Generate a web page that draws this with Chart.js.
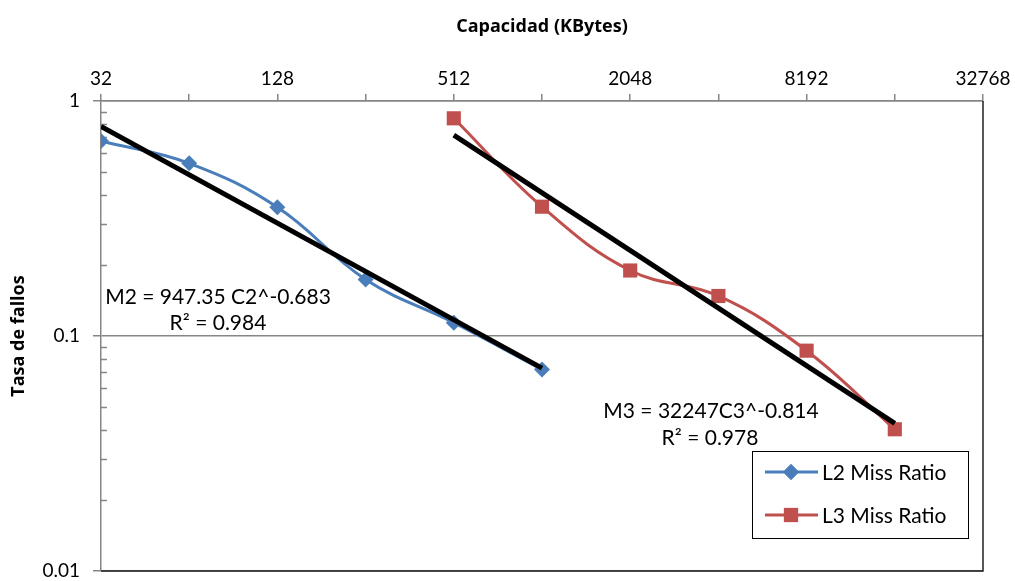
<!DOCTYPE html>
<html lang="es">
<head>
    <meta charset="UTF-8">
    <title>Tasa de fallos</title>
    <script src="https://cdn.jsdelivr.net/npm/chart.js"></script>
    <style>
        html, body {
            margin: 0;
            padding: 0;
            background: #fff;
        }
        #wrap {
            width: 1015px;
            height: 581px;
        }
    </style>
</head>
<body>
    <div id="wrap"><canvas id="chart" width="1015" height="581"></canvas></div>

    <script>
        // capacities in KBytes
        const l2Cap = [32, 64, 128, 256, 512, 1024];
        const l2Miss = [0.676, 0.543, 0.353, 0.174, 0.114, 0.0721];
        const l3Cap = [512, 1024, 2048, 4096, 8192, 16384];
        const l3Miss = [0.844, 0.355, 0.190, 0.148, 0.0866, 0.0401];

        // power trendlines, end points
        const l2TrendCap = [32, 1024];
        const l2TrendMiss = [0.78, 0.073];
        const l3TrendCap = [512, 16384];
        const l3TrendMiss = [0.716, 0.0425];

        const xTicks = [32, 64, 128, 256, 512, 1024, 2048, 4096, 8192, 16384, 32768];
        const xLabels = [32, 128, 512, 2048, 8192, 32768];
        const yTicks = [0.01, 0.1, 1];

        const l2Label = 'L2 Miss Ratio';
        const l3Label = 'L3 Miss Ratio';
        const l2Eq = ['M2 = 947.35 C2^-0.683', 'R² = 0.984'];
        const l3Eq = ['M3 = 32247C3^-0.814', 'R² = 0.978'];

        const FONT = 'Lato, "Open Sans", sans-serif';
        const TITLE_FONT = '"Open Sans", sans-serif';
        const BLUE = '#4a7ebb';
        const RED = '#c0504d';

        function pts(xs, ys) {
            return xs.map((x, i) => ({ x: x, y: ys[i] }));
        }

        // axis decorations, equations, frame and legend
        const extras = {
            id: 'extras',
            beforeDatasetsDraw(chart) {
                const ctx = chart.ctx;
                const a = chart.chartArea;
                const y = chart.scales.y;
                ctx.save();
                // minor ticks on the y axis, pointing inward
                ctx.strokeStyle = '#868686';
                ctx.lineWidth = 1.5;
                [0.01, 0.1].forEach(base => {
                    for (let k = 2; k <= 9; k++) {
                        const py = Math.round(y.getPixelForValue(base * k)) + 0.5;
                        ctx.beginPath();
                        ctx.moveTo(a.left, py);
                        ctx.lineTo(a.left + 6, py);
                        ctx.stroke();
                    }
                });
                // right and bottom frame
                ctx.strokeStyle = '#222';
                ctx.lineWidth = 1.5;
                ctx.beginPath();
                ctx.moveTo(a.right, a.top);
                ctx.lineTo(a.right, a.bottom);
                ctx.lineTo(a.left, a.bottom);
                ctx.stroke();
                ctx.restore();
            },
            afterDatasetsDraw(chart) {
                const ctx = chart.ctx;
                ctx.save();
                ctx.fillStyle = '#000';
                ctx.font = '21px ' + FONT;
                ctx.textBaseline = 'middle';
                ctx.textAlign = 'center';
                ctx.fillText(l2Eq[0], 218, 297);
                ctx.fillText(l2Eq[1], 218, 323);
                ctx.fillText(l3Eq[0], 711, 411);
                ctx.fillText(l3Eq[1], 710, 438);

                // legend
                const lx = 752, ly = 451, lw = 216, lh = 87;
                ctx.fillStyle = '#fff';
                ctx.fillRect(lx, ly, lw, lh);
                ctx.strokeStyle = '#000';
                ctx.lineWidth = 1;
                ctx.strokeRect(lx + 0.5, ly + 0.5, lw, lh);
                const rows = [
                    { label: l2Label, color: BLUE, style: 'rectRot', r: 8, y: 472 },
                    { label: l3Label, color: RED, style: 'rect', r: 10, y: 515 }
                ];
                rows.forEach(row => {
                    ctx.strokeStyle = row.color;
                    ctx.lineWidth = 3;
                    ctx.beginPath();
                    ctx.moveTo(765, row.y);
                    ctx.lineTo(818, row.y);
                    ctx.stroke();
                    ctx.fillStyle = row.color;
                    Chart.helpers.drawPoint(ctx, { pointStyle: row.style, radius: row.r, borderWidth: 0 }, 791, row.y);
                    ctx.fill();
                    ctx.fillStyle = '#000';
                    ctx.textAlign = 'left';
                    ctx.font = '21px ' + FONT;
                    ctx.fillText(row.label, 822, row.y + 1);
                });
                ctx.restore();
            }
        };

        new Chart(document.getElementById('chart'), {
            type: 'line',
            data: {
                datasets: [
                    {
                        label: 'L2 trend',
                        data: pts(l2TrendCap, l2TrendMiss),
                        borderColor: '#000',
                        borderWidth: 5,
                        pointRadius: 0,
                        tension: 0
                    },
                    {
                        label: 'L3 trend',
                        data: pts(l3TrendCap, l3TrendMiss),
                        borderColor: '#000',
                        borderWidth: 5,
                        pointRadius: 0,
                        tension: 0
                    },
                    {
                        label: l2Label,
                        data: pts(l2Cap, l2Miss),
                        borderColor: BLUE,
                        backgroundColor: BLUE,
                        borderWidth: 3,
                        pointStyle: 'rectRot',
                        pointRadius: 8,
                        pointBorderWidth: 0,
                        tension: 0.4
                    },
                    {
                        label: l3Label,
                        data: pts(l3Cap, l3Miss),
                        borderColor: RED,
                        backgroundColor: RED,
                        borderWidth: 3,
                        pointStyle: 'rect',
                        pointRadius: 10,
                        pointBorderWidth: 0,
                        tension: 0.4
                    }
                ]
            },
            options: {
                responsive: false,
                animation: false,
                layout: { padding: { left: 0, right: 32, top: 0, bottom: 9 } },
                plugins: {
                    legend: { display: false },
                    tooltip: { enabled: false }
                },
                scales: {
                    x: {
                        type: 'logarithmic',
                        position: 'top',
                        min: 32,
                        max: 32768,
                        afterBuildTicks: scale => {
                            scale.ticks = xTicks.map(v => ({ value: v }));
                        },
                        afterFit: scale => {
                            scale.height = 101;
                            scale.paddingLeft = 0;
                            scale.paddingRight = 0;
                        },
                        ticks: {
                            autoSkip: false,
                            maxRotation: 0,
                            color: '#000',
                            font: { family: FONT, size: 19 },
                            padding: 4,
                            callback: v => xLabels.includes(v) ? String(v) : ''
                        },
                        grid: {
                            drawOnChartArea: false,
                            tickLength: 7,
                            color: '#868686',
                            lineWidth: 1.5
                        },
                        border: { color: '#868686', width: 1.5 },
                        title: {
                            display: true,
                            text: 'Capacidad (KBytes)',
                            color: '#000',
                            font: { family: TITLE_FONT, size: 18, weight: 'bold' },
                            padding: { top: 16, bottom: 6 }
                        }
                    },
                    y: {
                        type: 'logarithmic',
                        min: 0.01,
                        max: 1,
                        afterBuildTicks: scale => {
                            scale.ticks = yTicks.map(v => ({ value: v }));
                        },
                        afterFit: scale => {
                            scale.width = 101;
                            scale.paddingTop = 0;
                            scale.paddingBottom = 0;
                        },
                        ticks: {
                            color: '#000',
                            font: { family: FONT, size: 19 },
                            padding: 13,
                            callback: v => String(v)
                        },
                        grid: {
                            color: '#868686',
                            lineWidth: 1.5,
                            tickLength: 8
                        },
                        border: { color: '#868686', width: 1.5 },
                        title: {
                            display: true,
                            text: 'Tasa de fallos',
                            color: '#000',
                            font: { family: TITLE_FONT, size: 18, weight: 'bold' },
                            padding: { top: 8, bottom: 4 }
                        }
                    }
                }
            },
            plugins: [extras]
        });
    </script>
</body>
</html>
